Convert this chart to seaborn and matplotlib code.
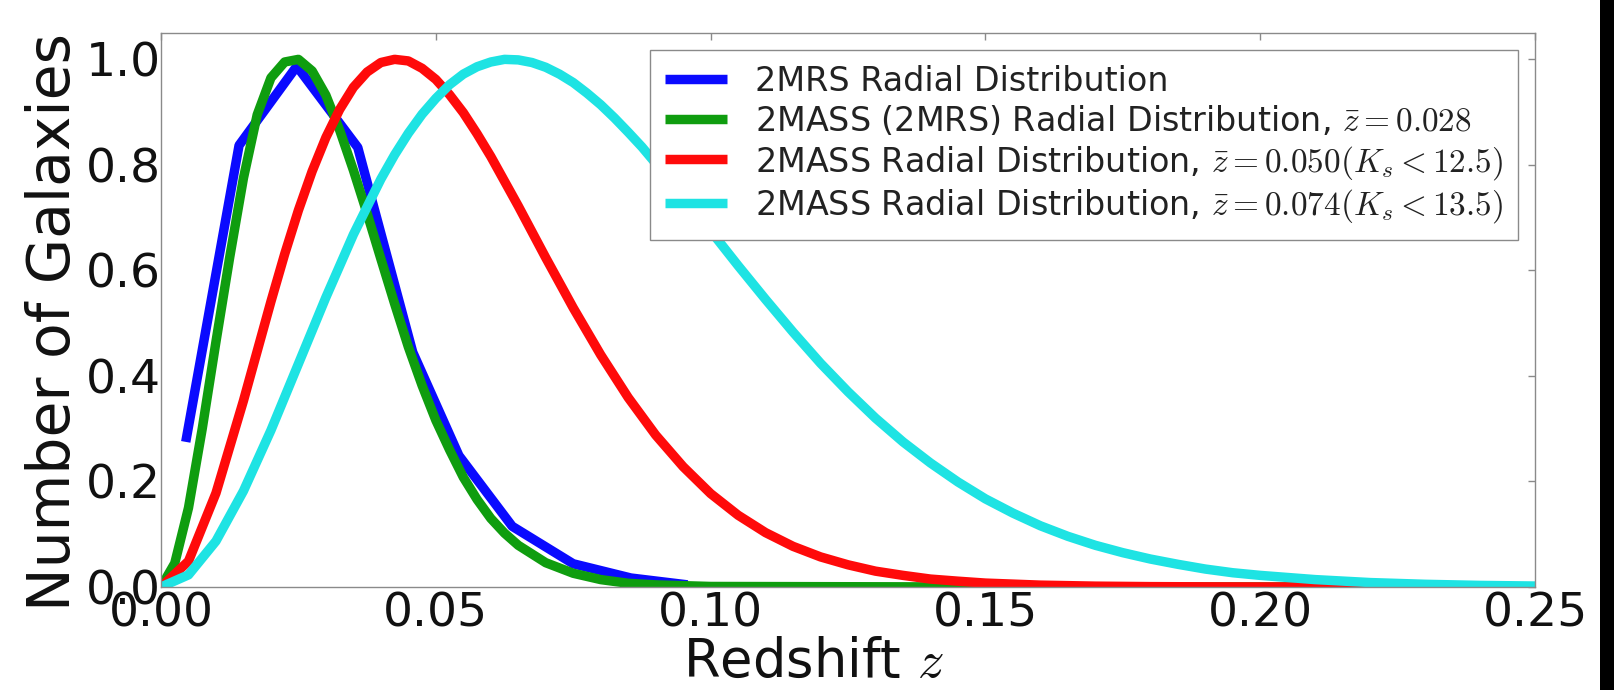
import matplotlib
matplotlib.use("Agg")
import matplotlib.pyplot as plt
from matplotlib.patches import Rectangle
import pandas as pd
import seaborn as sns

# 2MRS measured radial distribution (binned, normalised to peak)
z_2mrs = [0.0045, 0.0142, 0.0247, 0.0358, 0.0458, 0.0542, 0.0639, 0.0750, 0.0855, 0.0958]
n_2mrs = [0.275, 0.837, 0.987, 0.833, 0.445, 0.249, 0.115, 0.044, 0.017, 0.004]

# 2MASS (2MRS-depth) model distribution, mean z = 0.028
z_2mass_028 = [0.0, 0.0025, 0.005, 0.0075, 0.01, 0.0125, 0.015, 0.0175, 0.02, 0.0225,
               0.025, 0.0275, 0.03, 0.0325, 0.035, 0.0375, 0.04, 0.0425, 0.045, 0.0475,
               0.05, 0.0525, 0.055, 0.0575, 0.06, 0.0625, 0.065, 0.07, 0.075, 0.08,
               0.085, 0.09, 0.10, 0.15, 0.25]
n_2mass_028 = [0.0, 0.045, 0.15, 0.30, 0.465, 0.625, 0.775, 0.895, 0.965, 0.995,
               1.0, 0.978, 0.932, 0.866, 0.79, 0.708, 0.622, 0.537, 0.455, 0.382,
               0.316, 0.26, 0.208, 0.166, 0.13, 0.102, 0.079, 0.046, 0.026, 0.014,
               0.007, 0.004, 0.001, 0.0, 0.0]

# 2MASS model distribution, mean z = 0.050 (Ks < 12.5)
z_2mass_050 = [0.0, 0.005, 0.01, 0.015, 0.02, 0.0225, 0.025, 0.0275, 0.03, 0.0325,
               0.035, 0.0375, 0.04, 0.0425, 0.045, 0.0475, 0.05, 0.0525, 0.055, 0.0575,
               0.06, 0.065, 0.07, 0.075, 0.08, 0.085, 0.09, 0.095,
               0.10, 0.105, 0.11, 0.115, 0.12, 0.125, 0.13, 0.135, 0.14, 0.145,
               0.15, 0.16, 0.17, 0.18, 0.19, 0.20, 0.25]
n_2mass_050 = [0.0, 0.049, 0.178, 0.353, 0.541, 0.631, 0.714, 0.788, 0.852, 0.905,
               0.947, 0.976, 0.994, 1.0, 0.997, 0.983, 0.962, 0.933, 0.899, 0.859,
               0.816, 0.722, 0.624, 0.529, 0.440, 0.359, 0.288, 0.228,
               0.177, 0.136, 0.103, 0.077, 0.057, 0.042, 0.030, 0.022, 0.015, 0.011,
               0.0074, 0.0035, 0.0016, 0.0007, 0.0003, 0.0001, 0.0]

# 2MASS model distribution, mean z = 0.074 (Ks < 13.5)
z_2mass_074 = [0.0, 0.005, 0.01, 0.015, 0.02, 0.025, 0.03, 0.035, 0.04, 0.0425,
               0.045, 0.0475, 0.05, 0.0525, 0.055, 0.0575, 0.06, 0.0625, 0.065, 0.0675,
               0.07, 0.0725, 0.075, 0.0775, 0.08, 0.0825, 0.085, 0.0875, 0.09, 0.095,
               0.10, 0.105, 0.11, 0.115, 0.12, 0.125, 0.13, 0.135, 0.14, 0.145,
               0.15, 0.155, 0.16, 0.165, 0.17, 0.175, 0.18, 0.185, 0.19, 0.195,
               0.20, 0.21, 0.22, 0.23, 0.24, 0.25]
n_2mass_074 = [0.0, 0.023, 0.087, 0.182, 0.297, 0.423, 0.549, 0.668, 0.773, 0.819,
               0.860, 0.896, 0.926, 0.952, 0.972, 0.986, 0.995, 1.0, 0.999, 0.994,
               0.985, 0.972, 0.956, 0.936, 0.914, 0.889, 0.862, 0.834, 0.803, 0.740,
               0.675, 0.609, 0.545, 0.483, 0.424, 0.370, 0.320, 0.275, 0.235, 0.199,
               0.167, 0.140, 0.116, 0.096, 0.079, 0.065, 0.053, 0.043, 0.034, 0.027,
               0.022, 0.014, 0.0084, 0.0051, 0.0030, 0.0018]

series = [
    (z_2mrs, n_2mrs, "#0a0aff", "2MRS Radial Distribution"),
    (z_2mass_028, n_2mass_028, "#0f9d0f",
     r"2MASS (2MRS) Radial Distribution, $\bar{z}=0.028$"),
    (z_2mass_050, n_2mass_050, "#ff0a0a",
     r"2MASS Radial Distribution, $\bar{z}=0.050 (K_s<12.5)$"),
    (z_2mass_074, n_2mass_074, "#1ee3e3",
     r"2MASS Radial Distribution, $\bar{z}=0.074 (K_s<13.5)$"),
]

sns.set_theme(style="white")
plt.rcParams["font.family"] = ["DejaVu Sans"]
plt.rcParams["mathtext.fontset"] = "cm"

spine_grey = "#8a8a8a"

fig = plt.figure(figsize=(16.15, 6.9), dpi=100)
fig.patch.set_facecolor("white")
ax = fig.add_axes([0.0997, 0.1493, 0.8508, 0.8029])

for zs, ns, col, lab in series:
    df = pd.DataFrame({"z": zs, "n": ns})
    sns.lineplot(data=df, x="z", y="n", ax=ax, color=col, lw=6.8, label=lab,
                 sort=False, estimator=None, solid_capstyle="butt",
                 solid_joinstyle="round")

ax.set_xlim(0.0, 0.25)
ax.set_ylim(0.0, 1.05)
ax.set_xticks([0.0, 0.05, 0.10, 0.15, 0.20, 0.25])
ax.set_xticklabels(["0.00", "0.05", "0.10", "0.15", "0.20", "0.25"])
ax.set_yticks([0.0, 0.2, 0.4, 0.6, 0.8, 1.0])
ax.set_yticklabels(["0.0", "0.2", "0.4", "0.6", "0.8", "1.0"])

for sp in ax.spines.values():
    sp.set_color(spine_grey)
    sp.set_linewidth(1.0)

ax.tick_params(axis="both", direction="in", length=5, width=1, color=spine_grey,
               top=True, right=True, labelsize=34, labelcolor="#111111")
ax.tick_params(axis="x", pad=3)
ax.tick_params(axis="y", pad=0)

ax.set_xlabel(r"Redshift $z$", fontsize=38, color="#111111")
ax.set_ylabel("Number of Galaxies", fontsize=42, color="#111111")
ax.xaxis.set_label_coords(0.4745, -0.088)
ax.yaxis.set_label_coords(-0.0575, 0.478)

leg = ax.legend(loc="upper right", fontsize=24, frameon=True, fancybox=False,
                framealpha=1.0, edgecolor=spine_grey, handlelength=1.85,
                handletextpad=0.85, borderpad=0.45, labelspacing=0.18,
                borderaxespad=0.5)
leg.get_frame().set_linewidth(1.0)
for t in leg.get_texts():
    t.set_color("#222222")

# dark border strip along the right edge of the figure
fig.patches.append(Rectangle((1600 / 1615, 0.0), 15 / 1615, 1.0,
                             transform=fig.transFigure, facecolor="black",
                             edgecolor="none", zorder=10))

fig.savefig("out.png", dpi=100)
